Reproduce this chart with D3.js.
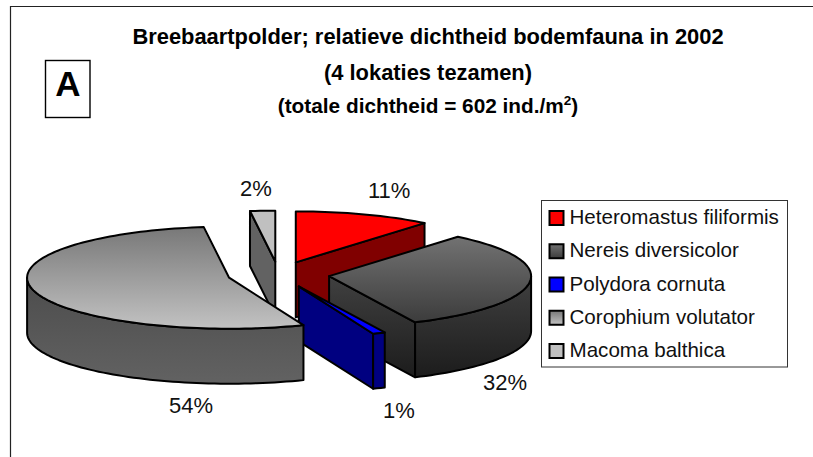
<!DOCTYPE html>
<html>
<head>
<meta charset="utf-8">
<script src="https://cdn.jsdelivr.net/npm/d3@7"></script>
<style>
  html, body { margin: 0; background: #fff; }
  svg { display: block; font-family: "Liberation Sans", Arial, sans-serif; }
</style>
</head>
<body>
<svg id="chart" width="813" height="457"></svg>
<script>
// Relative density per species, percent
const species = ['Heteromastus filiformis', 'Nereis diversicolor', 'Polydora cornuta', 'Corophium volutator', 'Macoma balthica'];
const percentages = [11, 32, 1, 54, 2];
const titleLines = ['Breebaartpolder; relatieve dichtheid bodemfauna in 2002', '(4 lokaties tezamen)'];

// top surface gradient, wall gradient, plain wall edge colours
const topColors = [['#ff0000', '#ff0000'], ['#727272', '#3c3c3c'], ['#0000ff', '#0000ff'], ['#787878', '#c2c2c2'], ['#c0c0c0', '#c0c0c0']];
const wallColors = [['#800000', '#800000'], ['#404040', '#1c1c1c'], ['#000080', '#000080'], ['#4c4c4c', '#626262'], ['#626262', '#626262']];

// Pie model, fitted to the picture
const center = { x: 278.5, y: 274.5 };
const rx = 202, ry = 51, depth = 55, explode = 51;

// Label position relative to the rim point of each slice
const labelOffsets = [[25, -16.5], [-24.5, 107.6], [20, 85], [157.6, 122.7], [-6.6, -15]];

const svg = d3.select('#chart');
const defs = svg.append('defs');

function addGradient(id, colors) {
    const g = defs.append('linearGradient')
        .attr('id', id)
        .attr('x1', 0).attr('y1', 0)
        .attr('x2', 0).attr('y2', 1);
    g.append('stop').attr('offset', 0).attr('stop-color', colors[0]);
    g.append('stop').attr('offset', 1).attr('stop-color', colors[1]);
}
topColors.forEach((c, i) => addGradient('top' + i, c));
wallColors.forEach((c, i) => addGradient('wall' + i, c));

// Angle runs clockwise from 12 o'clock, same as d3.pie
const slices = d3.pie().sort(null).value(d => d)(percentages);
const line = d3.line();

function project(c, a) {
    return [c.x + rx * Math.sin(a), c.y - ry * Math.cos(a)];
}

function sliceCenter(s) {
    const mid = (s.startAngle + s.endAngle) / 2;
    return {
        x: center.x + explode * Math.sin(mid),
        y: center.y - explode * (ry / rx) * Math.cos(mid)
    };
}

function rimPoints(c, a0, a1) {
    const steps = Math.max(2, Math.ceil((a1 - a0) / 0.03));
    return d3.range(steps + 1).map(i => project(c, a0 + (a1 - a0) * i / steps));
}

const pie = svg.append('g')
    .attr('stroke', '#000')
    .attr('stroke-width', 2)
    .attr('stroke-linejoin', 'round');

// Flat cut from the centre out to the rim at angle a
function drawCut(c, low, a, i) {
    pie.append('path').attr('fill', 'url(#wall' + i + ')')
        .attr('d', line([[c.x, c.y], project(c, a), project(low, a), [low.x, low.y]]) + 'Z');
}

// Walls and lid of one slice
function drawSlice(s, i) {
    const c = sliceCenter(s);
    const low = { x: c.x, y: c.y + depth };
    const a0 = s.startAngle, a1 = s.endAngle;

    // a cut only shows when it faces the viewer
    if (a0 > Math.PI && a0 < 2 * Math.PI) drawCut(c, low, a0, i);
    if (a1 > 0 && a1 < Math.PI) drawCut(c, low, a1, i);

    // outer wall on the front half
    const w0 = Math.max(a0, Math.PI / 2), w1 = Math.min(a1, 1.5 * Math.PI);
    if (w1 > w0) {
        const rimTop = rimPoints(c, w0, w1);
        const rimLow = rimPoints(low, w0, w1).reverse();
        pie.append('path').attr('fill', 'url(#wall' + i + ')')
            .attr('d', line(rimTop.concat(rimLow)) + 'Z');
    }
    // lid
    pie.append('path').attr('fill', 'url(#top' + i + ')')
        .attr('d', line([[c.x, c.y]].concat(rimPoints(c, a0, a1))) + 'Z');
}

// Back slices first, the big grey one goes over Macoma
[4, 0, 1, 2, 3].forEach(i => drawSlice(slices[i], i));

// Percent labels
svg.append('g').selectAll('text')
    .data(slices)
    .join('text')
    .attr('x', (s, i) => project(sliceCenter(s), (s.startAngle + s.endAngle) / 2)[0] + labelOffsets[i][0])
    .attr('y', (s, i) => project(sliceCenter(s), (s.startAngle + s.endAngle) / 2)[1] + labelOffsets[i][1])
    .attr('text-anchor', 'middle')
    .style('font-size', '22px')
    .attr('fill', '#111')
    .text((s, i) => percentages[i] + '%');

// Chart frame, only left and top are in the picture
svg.append('path')
    .attr('d', 'M10.5,457V6.5H813')
    .attr('fill', 'none')
    .attr('stroke', '#222')
    .attr('stroke-width', 1.2);

// Title
const title = svg.append('g')
    .attr('text-anchor', 'middle')
    .style('font-weight', 'bold')
    .style('font-size', '21.9px')
    .attr('fill', '#000');
title.selectAll('text.line')
    .data(titleLines)
    .join('text')
    .attr('class', 'line')
    .attr('x', 428)
    .attr('y', (d, i) => 44 + i * 36)
    .text(d => d);
const total = title.append('text').attr('x', 428).attr('y', 113).style('font-size', '20.8px');
total.append('tspan').text('(totale dichtheid = 602 ind./m');
total.append('tspan').attr('dy', -8).style('font-size', '13.5px').text('2');
total.append('tspan').attr('dy', 8).text(')');

// Panel letter
svg.append('rect')
    .attr('x', 45.5).attr('y', 60.5)
    .attr('width', 44.5).attr('height', 57)
    .attr('fill', '#fff').attr('stroke', '#000').attr('stroke-width', 1.4);
svg.append('text')
    .attr('x', 68).attr('y', 96)
    .attr('text-anchor', 'middle')
    .style('font-weight', 'bold').style('font-size', '35px')
    .text('A');

// Legend
const legendX = d3.scaleLinear().domain([0, 1]).range([541.5, 787.5]);
const legendY = d3.scalePoint().domain(species).range([218, 351]);

svg.append('rect')
    .attr('x', legendX(0)).attr('y', 200.5)
    .attr('width', legendX(1) - legendX(0)).attr('height', 166.5)
    .attr('fill', '#fff').attr('stroke', '#333').attr('stroke-width', 1);

const rows = svg.append('g').selectAll('g')
    .data(species)
    .join('g')
    .attr('transform', d => `translate(${legendX(0) + 8},${legendY(d)})`);
rows.append('rect')
    .attr('x', 0).attr('y', -7)
    .attr('width', 14).attr('height', 14)
    .attr('fill', (d, i) => 'url(#top' + i + ')')
    .attr('stroke', '#000').attr('stroke-width', 2);
rows.append('text')
    .attr('x', 20).attr('y', 6)
    .style('font-size', '20.6px')
    .attr('fill', '#111')
    .text(d => d);
</script>
</body>
</html>
